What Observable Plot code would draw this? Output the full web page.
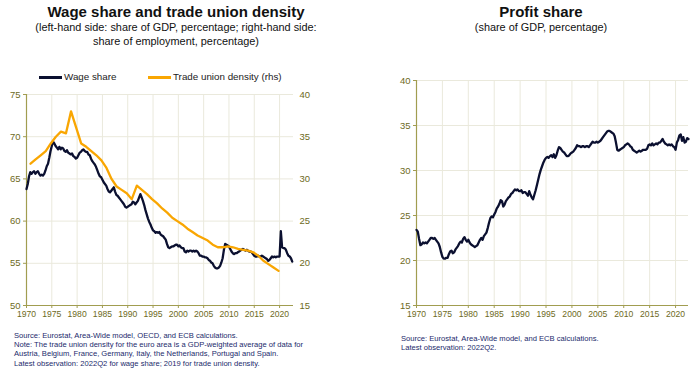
<!DOCTYPE html>
<html>
<head>
<meta charset="utf-8">
<script src="https://cdn.jsdelivr.net/npm/d3@7"></script>
<script src="https://cdn.jsdelivr.net/npm/@observablehq/plot@0.6"></script>
<style>
  html, body { margin: 0; padding: 0; background: #fff; }
  #root { position: relative; width: 700px; height: 374px; overflow: hidden; font-family: "Liberation Sans", Arial, sans-serif; }
  .abs { position: absolute; }
  .title { font-weight: bold; font-size: 15px; color: #111; text-align: center; white-space: nowrap; }
  .sub { font-size: 10.9px; color: #111; text-align: center; line-height: 14px; white-space: nowrap; }
  .note { font-size: 7.6px; color: #1b2a6b; line-height: 9.2px; white-space: nowrap; }
  .legend { font-size: 9.8px; color: #222; white-space: nowrap; }
  .sw { display: inline-block; width: 23px; height: 2.5px; vertical-align: middle; margin-right: 2px; }
  svg { position: absolute; top: 0; }
</style>
</head>
<body>
<div id="root"></div>
<script>
// ---------- Data ----------
// Wage share (share of GDP, %), quarterly from 1970Q1
const wageShare = [
  63.8,64.4,65.3,65.8, 65.6,65.8,65.9,65.6, 65.8,65.9,65.6,65.4, 65.5,65.4,65.6,66.0,
  66.5,66.8,67.5,68.3, 68.9,69.4,69.2,68.9, 68.7,68.5,68.8,68.5, 68.7,68.6,68.3,68.2,
  68.4,68.1,68.0,67.9, 68.0,67.7,67.6,67.4, 67.5,67.8,68.1,68.2, 68.4,68.5,68.3,68.2,
  68.2,67.9,67.8,67.4, 67.1,66.9,66.7,66.4, 66.0,65.6,65.3,65.2, 64.9,64.6,64.4,64.2,
  63.8,63.5,63.4,63.6, 63.8,64.0,63.5,63.1, 63.0,62.8,62.6,62.4, 62.2,62.0,61.7,61.6,
  61.7,61.8,61.9,62.0, 62.3,62.2,62.0,62.2, 62.4,62.8,63.2,62.8, 62.4,61.9,61.3,60.8,
  60.3,59.9,59.6,59.2, 58.9,58.8,58.6,58.7, 58.6,58.7,58.4,58.3, 58.2,58.0,57.8,57.3,
  56.9,56.8,56.9,57.0, 57.0,57.1,57.2,57.2, 57.0,57.1,56.9,56.8, 56.8,56.4,56.3,56.5,
  56.4,56.5,56.5,56.4, 56.5,56.4,56.5,56.4, 56.2,55.9,55.9,55.8, 55.8,55.7,55.7,55.6,
  55.4,55.3,55.1,55.0, 54.7,54.5,54.4,54.4, 54.5,54.7,55.1,55.6, 56.6,57.3,57.2,57.1,
  57.0,56.7,56.4,56.2, 56.1,56.2,56.2,56.3, 56.4,56.5,56.6,56.7, 56.6,56.5,56.6,56.5,
  56.4,56.4,56.3,56.1, 55.9,55.8,55.8,55.9, 55.8,55.8,55.9,55.8, 55.7,55.6,55.5,55.3,
  55.4,55.6,55.8,55.7, 55.8,55.7,55.8,55.8, 55.8,58.8,56.9,56.8, 56.8,56.6,56.2,55.9,
  55.8,55.6,55.2
];
// Trade union density (share of employment, %), annual 1970-2019
const tudYears = [
  1970,1971,1972,1973,1974,1975,1976,1977,1978,1979,
  1980,1981,1982,1983,1984,1985,1986,1987,1988,1989,
  1990,1991,1992,1993,1994,1995,1996,1997,1998,1999,
  2000,2001,2002,2003,2004,2005,2006,2007,2008,2009,
  2010,2011,2012,2013,2014,2015,2016,2017,2018,2019
];
const tudValues = [
  31.8,32.3,32.8,33.3,34.2,35.0,35.6,35.4,38.0,36.1,
  34.2,33.8,33.3,32.8,32.2,31.3,30.0,29.1,28.7,28.3,
  27.6,29.2,28.7,28.2,27.6,27.1,26.5,26.0,25.4,25.0,
  24.6,24.1,23.7,23.3,23.0,22.7,22.2,21.9,21.9,22.0,
  21.9,21.7,21.6,21.5,21.3,20.9,20.3,19.9,19.5,19.1
];
// Profit share (share of GDP, %), quarterly from 1970Q1
const profitShare = [
  23.4,23.2,22.4,21.7, 21.8,22.0,21.9,22.0, 21.9,22.1,22.3,22.5, 22.5,22.4,22.5,22.3,
  22.1,21.9,21.5,20.9, 20.4,20.2,20.2,20.3, 20.3,20.7,21.0,21.1, 20.8,20.9,21.2,21.4,
  21.6,21.9,22.1,22.0, 22.4,22.6,22.3,22.1, 22.3,22.0,21.8,21.7, 21.6,21.5,21.6,21.7,
  22.0,22.3,22.5,22.3, 22.7,22.9,23.1,23.6, 24.2,24.7,24.9,24.8, 25.1,25.4,25.8,26.0,
  26.3,26.7,26.6,26.0, 26.2,26.6,26.8,27.0, 27.1,27.4,27.5,27.7, 27.9,27.8,27.9,27.7,
  27.7,27.8,27.5,27.6, 27.6,27.4,27.2,27.7, 27.3,27.0,26.8,27.3, 27.8,28.4,29.0,29.6,
  30.1,30.5,30.9,31.2, 31.4,31.5,31.4,31.6, 31.7,31.5,31.8,31.4, 31.7,32.2,32.6,32.5,
  32.3,32.1,32.0,31.8, 31.6,31.6,31.7,31.9, 32.0,32.1,32.3,32.5, 32.8,32.7,32.7,32.6,
  32.7,32.7,32.6,32.7, 32.7,32.6,32.8,33.0, 33.2,33.1,33.1,33.2, 33.1,33.2,33.3,33.5,
  33.7,33.9,34.1,34.3, 34.4,34.4,34.3,34.2, 34.1,33.8,33.1,32.3, 32.2,32.3,32.4,32.5,
  32.6,32.8,32.9,33.0, 32.9,32.7,32.6,32.3, 32.2,32.1,32.0,32.1, 32.2,32.1,32.2,32.3,
  32.3,32.3,32.4,32.8, 32.9,32.8,33.0,32.8, 32.9,33.0,32.9,33.1, 33.1,33.3,33.5,33.2,
  33.0,32.9,32.8,32.9, 32.8,32.9,32.7,32.6, 32.3,33.1,33.4,33.9, 34.0,33.3,33.7,33.1,
  33.2,33.6,33.5
];
const yearTicks = [1970,1975,1980,1985,1990,1995,2000,2005,2010,2015,2020];
const wageTicks = [50,55,60,65,70,75];
const tudTicks = [15,20,25,30,35,40];
const profitTicks = [15,20,25,30,35,40];
const tudOffset = 35; // rhs 15..40 aligned with lhs 50..75

// ---------- Styles ----------
const navy = "#0b1030";
const orange = "#f9a602";
const olive = "#6e6a1c";
const axisCol = "#a19d50";
const gridCol = "#eae9dc";
const fontFam = "Liberation Sans, Arial, sans-serif";

const wageData = wageShare.map((v, i) => ({t: 1970 + i / 4, v}));
const profitData = profitShare.map((v, i) => ({t: 1970 + i / 4, v}));
const tudData = tudYears.map((y, i) => ({t: y + 0.8, v: tudValues[i] + tudOffset}));

const root = document.getElementById("root");

function html(cls, text, css) {
  const d = document.createElement("div");
  d.className = "abs " + cls;
  d.innerHTML = text;
  Object.assign(d.style, css);
  root.appendChild(d);
  return d;
}

// ---------- Left chart ----------
const left = Plot.plot({
  width: 350, height: 330,
  marginLeft: 26, marginRight: 57, marginTop: 94, marginBottom: 25,
  style: {fontFamily: fontFam, fontSize: "9.5px", color: olive, background: "transparent"},
  x: {domain: [1970, 2022.75], label: null},
  y: {domain: [50, 75], label: null},
  marks: [
    Plot.gridX(yearTicks, {stroke: gridCol, strokeOpacity: 1}),
    Plot.gridY(wageTicks, {stroke: gridCol, strokeOpacity: 1}),
    Plot.axisX(yearTicks, {label: null, tickFormat: d => String(d), tickSize: 3, tickPadding: 2, fontSize: 8.6, stroke: axisCol, fill: olive}),
    Plot.axisY(wageTicks, {label: null, anchor: "left", tickSize: 3, tickPadding: 3, stroke: axisCol, fill: olive}),
    Plot.axisY(tudTicks.map(t => t + tudOffset), {label: null, anchor: "right", tickSize: 0, tickPadding: 6, tickFormat: d => String(d - tudOffset), fill: olive}),
    Plot.ruleX([1970], {stroke: axisCol, strokeWidth: 1.2}),
    Plot.ruleY([50], {stroke: axisCol, strokeWidth: 1.2}),
    Plot.line(wageData, {x: "t", y: "v", stroke: navy, strokeWidth: 2.3}),
    Plot.line(tudData, {x: "t", y: "v", stroke: orange, strokeWidth: 2.3})
  ]
});
left.style.left = "0px";
root.appendChild(left);

// ---------- Right chart ----------
const right = Plot.plot({
  width: 350, height: 330,
  marginLeft: 66, marginRight: 12, marginTop: 80, marginBottom: 25,
  style: {fontFamily: fontFam, fontSize: "9.5px", color: olive, background: "transparent"},
  x: {domain: [1970, 2022.5], label: null},
  y: {domain: [15, 40], label: null},
  marks: [
    Plot.gridX(yearTicks, {stroke: gridCol, strokeOpacity: 1}),
    Plot.gridY(profitTicks, {stroke: gridCol, strokeOpacity: 1}),
    Plot.axisX(yearTicks, {label: null, tickFormat: d => String(d), tickSize: 3, tickPadding: 2, fontSize: 8.6, stroke: axisCol, fill: olive}),
    Plot.axisY(profitTicks, {label: null, anchor: "left", tickSize: 3, tickPadding: 3, stroke: axisCol, fill: olive}),
    Plot.ruleX([1970], {stroke: axisCol, strokeWidth: 1.2}),
    Plot.ruleY([15], {stroke: axisCol, strokeWidth: 1.2}),
    Plot.line(profitData, {x: "t", y: "v", stroke: navy, strokeWidth: 2.3})
  ]
});
right.style.left = "350px";
root.appendChild(right);

// ---------- Titles ----------
html("title", "Wage share and trade union density", {left: "26px", width: "300px", top: "3px"});
html("sub", "(left-hand side: share of GDP, percentage; right-hand side:<br>share of employment, percentage)", {left: "26px", width: "300px", top: "20px"});
html("title", "Profit share", {left: "391px", width: "300px", top: "3px"});
html("sub", "(share of GDP, percentage)", {left: "391px", width: "300px", top: "20px"});

// ---------- Legend ----------
html("legend", `<span class="sw" style="background:${navy}"></span>Wage share`, {left: "39px", top: "71px"});
html("legend", `<span class="sw" style="background:${orange}"></span>Trade union density (rhs)`, {left: "148px", top: "71px"});

// ---------- Notes ----------
html("note", "Source: Eurostat, Area-Wide model, OECD, and ECB calculations.<br>" +
  "Note: The trade union density for the euro area is a GDP-weighted average of data for<br>" +
  "Austria, Belgium, France, Germany, Italy, the Netherlands, Portugal and Spain.<br>" +
  "Latest observation: 2022Q2 for wage share; 2019 for trade union density.",
  {left: "14px", top: "331px"});
html("note", "Source: Eurostat, Area-Wide model, and ECB calculations.<br>Latest observation: 2022Q2.",
  {left: "401px", top: "334px"});
</script>
</body>
</html>
